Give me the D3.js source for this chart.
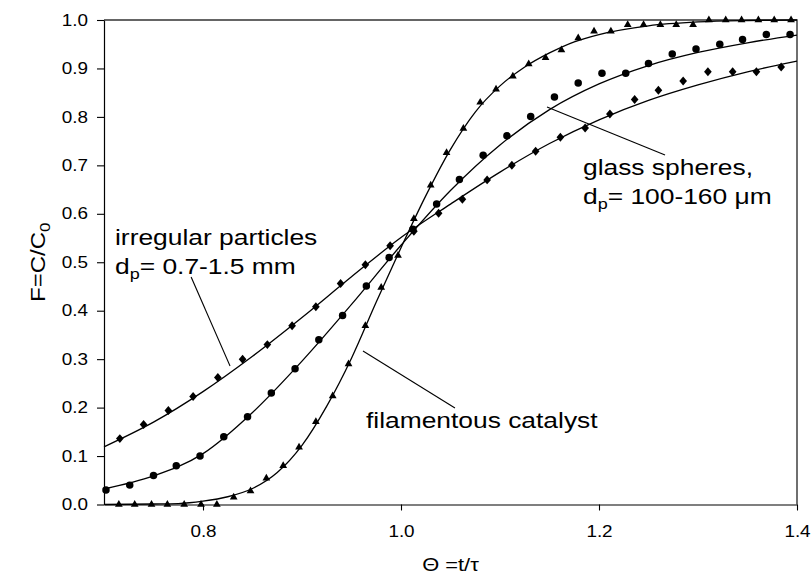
<!DOCTYPE html>
<html>
<head>
<meta charset="utf-8">
<script src="https://cdn.jsdelivr.net/npm/d3@7"></script>
<style>
  html, body { margin: 0; padding: 0; background: #fff; }
  svg { display: block; }
  text { font-family: "Liberation Sans", Arial, Helvetica, sans-serif; fill: #000; }
</style>
</head>
<body>
<svg id="chart" width="811" height="576"></svg>
<script>
// ---------- data ----------
const xTickValues = [0.8, 1.0, 1.2, 1.4];
const xTickLabels = ["0.8", "1.0", "1.2", "1.4"];
const yTickValues = [0.0, 0.1, 0.2, 0.3, 0.4, 0.5, 0.6, 0.7, 0.8, 0.9, 1.0];
const yTickLabels = ["0.0", "0.1", "0.2", "0.3", "0.4", "0.5", "0.6", "0.7", "0.8", "0.9", "1.0"];

// irregular particles (diamonds)
const irregX = [0.716,0.740,0.765,0.790,0.815,0.840,0.865,0.890,0.914,0.939,0.964,0.989,1.013,1.038,1.062,1.087,1.112,1.136,1.161,1.186,1.211,1.236,1.260,1.285,1.310,1.335,1.359,1.384];
const irregF = [0.136,0.165,0.194,0.223,0.262,0.300,0.330,0.369,0.408,0.456,0.495,0.534,0.564,0.601,0.630,0.670,0.700,0.729,0.758,0.777,0.806,0.836,0.855,0.874,0.893,0.893,0.893,0.903];
// glass spheres (circles)
const glassX = [0.702,0.726,0.750,0.773,0.797,0.821,0.845,0.869,0.893,0.917,0.941,0.965,0.988,1.012,1.036,1.059,1.083,1.107,1.131,1.155,1.179,1.203,1.227,1.250,1.274,1.298,1.322,1.345,1.369,1.393];
const glassF = [0.030,0.040,0.060,0.080,0.100,0.140,0.181,0.230,0.280,0.340,0.390,0.451,0.510,0.568,0.620,0.671,0.721,0.761,0.801,0.841,0.870,0.890,0.890,0.910,0.930,0.940,0.950,0.960,0.970,0.970];
// filamentous catalyst (triangles)
const filX = [0.715,0.731,0.748,0.764,0.781,0.798,0.814,0.831,0.848,0.864,0.881,0.897,0.914,0.931,0.947,0.964,0.980,0.997,1.013,1.030,1.046,1.063,1.080,1.096,1.113,1.129,1.146,1.162,1.179,1.195,1.212,1.229,1.245,1.262,1.278,1.295,1.311,1.328,1.344,1.361,1.377,1.394];
const filF = [0,0,0,0,0,0,0,0.015,0.028,0.054,0.080,0.118,0.171,0.224,0.290,0.369,0.448,0.514,0.590,0.659,0.726,0.776,0.830,0.857,0.884,0.909,0.922,0.938,0.963,0.977,0.977,0.990,0.990,0.990,0.990,0.990,1,1,1,1,1,1];

// fitted curves
const irregCurveX = [0.70,0.75,0.80,0.85,0.90,0.95,1.00,1.05,1.10,1.15,1.20,1.25,1.30,1.35,1.40];
const irregCurveF = [0.119,0.170,0.233,0.306,0.386,0.470,0.551,0.620,0.686,0.745,0.794,0.834,0.866,0.893,0.915];
const glassCurveX = [0.70,0.75,0.80,0.85,0.90,0.95,1.00,1.05,1.10,1.15,1.20,1.25,1.30,1.35,1.40];
const glassCurveF = [0.032,0.059,0.105,0.190,0.296,0.413,0.535,0.648,0.742,0.815,0.868,0.906,0.933,0.953,0.969];
const filCurveX = [0.70,0.75,0.775,0.80,0.825,0.85,0.875,0.90,0.925,0.95,0.975,1.00,1.025,1.05,1.075,1.10,1.125,1.15,1.175,1.20,1.25,1.30,1.35,1.40];
const filCurveF = [0.000,0.001,0.002,0.007,0.016,0.033,0.066,0.122,0.203,0.302,0.418,0.530,0.637,0.733,0.810,0.864,0.903,0.932,0.955,0.970,0.988,0.996,0.999,1.000];

// annotations (data coordinates)
const annotations = [
  { lines: [["irregular particles"], ["d", "p", "= 0.7-1.5 mm"]], tx: 0.7111, ty: [0.5356, 0.4751], lead: [[0.788, 0.4696], [0.8273, 0.2859]] },
  { lines: [["glass spheres,"], ["d", "p", "= 100-160 μm"]], tx: 1.1838, ty: [0.6801, 0.6202], lead: [[1.1475, 0.8204], [1.2667, 0.7214]] },
  { lines: [["filamentous catalyst"]], tx: 0.9646, ty: [0.1579], lead: [[0.9616, 0.3168], [1.0545, 0.1992]] }
];

// ---------- layout ----------
const W = 811, H = 576;
const m = { left: 104, right: 14, top: 20, bottom: 71.5 };
const svg = d3.select("#chart");
const x = d3.scaleLinear().domain([0.7, 1.4]).range([m.left, W - m.right]);
const y = d3.scaleLinear().domain([0, 1]).range([H - m.bottom, m.top]);
const STRETCH = 1.18;

// frame (top & right)
svg.append("path")
  .attr("d", d3.line()([[x(0.7), y(1)], [x(1.4), y(1)], [x(1.4), y(0)]]))
  .attr("fill", "none").attr("stroke", "#333").attr("stroke-width", 1.4);

// axes
const xAxis = d3.axisBottom(x).tickValues(xTickValues)
  .tickFormat((d, i) => xTickLabels[i]).tickSize(6).tickPadding(15).tickSizeOuter(0);
const gx = svg.append("g").attr("transform", `translate(0,${y(0)})`).call(xAxis);
const yAxis = d3.axisLeft(y).tickValues(yTickValues)
  .tickFormat((d, i) => yTickLabels[i]).tickSize(7).tickPadding(9).tickSizeOuter(0);
const gy = svg.append("g").attr("transform", `translate(${x(0.7)},0)`).call(yAxis);
[gx, gy].forEach(g => {
  g.select(".domain").attr("stroke", "#000").attr("stroke-width", 1.2);
  g.selectAll(".tick line").attr("stroke", "#000").attr("stroke-width", 1.1);
  g.selectAll(".tick text").attr("font-size", 16).attr("fill", "#000")
    .attr("font-family", "'Liberation Sans', Arial, sans-serif");
});
// horizontal stretch of tick labels around their anchor
gx.selectAll(".tick text").attr("transform", function() {
  const yy = +d3.select(this).attr("y");
  return `translate(0,${yy}) scale(${STRETCH},1) translate(0,${-yy})`;
});
gy.selectAll(".tick text").attr("transform", function() {
  const xx = +d3.select(this).attr("x");
  return `translate(${xx},0) scale(${STRETCH},1) translate(${-xx},0)`;
});

// axis titles
svg.append("text")
  .attr("transform", `translate(${(x(0.7) + x(1.4)) / 2},${571}) scale(1.15,1)`)
  .attr("text-anchor", "middle").attr("font-size", 19)
  .text("Θ =t/τ");
const yl = svg.append("text")
  .attr("transform", `translate(45,${(y(0) + y(1)) / 2}) rotate(-90) scale(1.2,1)`)
  .attr("text-anchor", "middle").attr("font-size", 20);
yl.append("tspan").text("F=C/C");
yl.append("tspan").attr("font-size", 14).attr("dy", 5).text("0");

// curves
const curves = [[irregCurveX, irregCurveF], [glassCurveX, glassCurveF], [filCurveX, filCurveF]];
const line = d3.line().x(d => x(d[0])).y(d => y(d[1])).curve(d3.curveMonotoneX);
curves.forEach(([cx, cf]) => {
  svg.append("path").datum(cx.map((v, i) => [v, cf[i]]))
    .attr("d", line).attr("fill", "none").attr("stroke", "#000").attr("stroke-width", 1.3);
});

// markers
const diamond = {
  draw(ctx, size) {
    const w = Math.sqrt(size) * 0.48, h = Math.sqrt(size) * 0.56;
    ctx.moveTo(0, -h); ctx.lineTo(w, 0); ctx.lineTo(0, h); ctx.lineTo(-w, 0); ctx.closePath();
  }
};
function drawMarkers(xs, fs, type, size) {
  svg.append("g").selectAll("path").data(xs.map((v, i) => [v, fs[i]])).join("path")
    .attr("transform", d => `translate(${x(d[0])},${y(d[1])})`)
    .attr("d", d3.symbol().type(type).size(size))
    .attr("fill", "#000");
}
drawMarkers(irregX, irregF, diamond, 64);
drawMarkers(glassX, glassF, d3.symbolCircle, 44);
drawMarkers(filX, filF, d3.symbolTriangle, 26);

// annotations
annotations.forEach(a => {
  svg.append("line")
    .attr("x1", x(a.lead[0][0])).attr("y1", y(a.lead[0][1]))
    .attr("x2", x(a.lead[1][0])).attr("y2", y(a.lead[1][1]))
    .attr("stroke", "#000").attr("stroke-width", 1.1);
  a.lines.forEach((parts, li) => {
    const t = svg.append("text")
      .attr("transform", `translate(${x(a.tx)},${y(a.ty[li])}) scale(1.2,1)`)
      .attr("font-size", 22);
    if (parts.length === 1) {
      t.text(parts[0]);
    } else {
      t.append("tspan").text(parts[0]);
      t.append("tspan").attr("font-size", 15).attr("dy", 5).text(parts[1]);
      t.append("tspan").attr("dy", -5).text(parts[2]);
    }
  });
});
</script>
</body>
</html>
